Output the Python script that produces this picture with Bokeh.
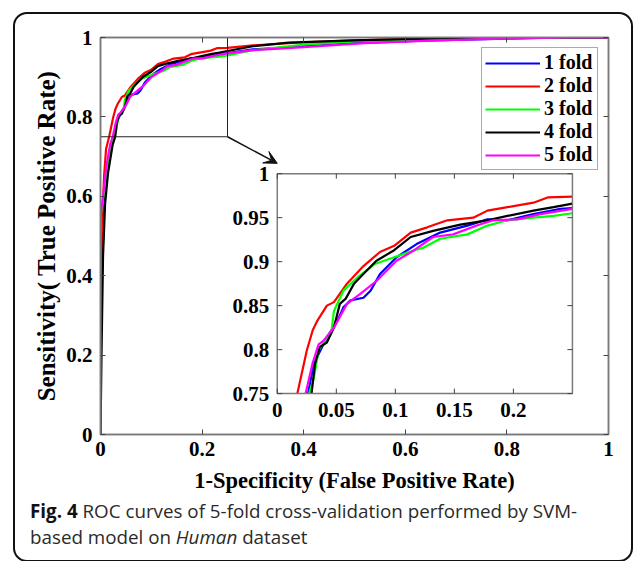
import numpy as np
from bokeh.plotting import figure
from bokeh.layouts import column
from bokeh.models import (Range1d, LinearAxis, Legend, LegendItem, Arrow, VeeHead,
                          Div, FixedTicker, CustomJSTickFormatter)
from bokeh.embed import file_html
from bokeh.resources import INLINE

# ---------------- data ----------------
fold_names = ["1 fold", "2 fold", "3 fold", "4 fold", "5 fold"]
fold_colors = ["#0000FF", "#FF0000", "#00FF00", "#000000", "#FF00FF"]

fpr_1 = [0, 0, 0.004, 0.008, 0.014, 0.020, 0.026, 0.031, 0.042, 0.051, 0.056, 0.062, 0.073, 0.079, 0.087,
         0.101, 0.118, 0.138, 0.161, 0.178, 0.195, 0.217, 0.240, 0.25, 0.30, 0.40, 0.50, 0.65, 0.80, 0.90, 1.0]
tpr_1 = [0, 0.25, 0.45, 0.60, 0.68, 0.73, 0.75, 0.784, 0.814, 0.833, 0.848, 0.856, 0.859, 0.867, 0.886,
         0.905, 0.920, 0.933, 0.941, 0.948, 0.947, 0.954, 0.960, 0.961, 0.970, 0.978, 0.986, 0.993, 0.997, 1.0, 1.0]

fpr_2 = [0, 0, 0.002, 0.004, 0.007, 0.011, 0.017, 0.025, 0.030, 0.034, 0.042, 0.048, 0.059, 0.073, 0.087,
         0.099, 0.113, 0.127, 0.144, 0.166, 0.178, 0.195, 0.217, 0.229, 0.25, 0.30, 0.40, 0.50, 0.60, 0.75, 0.85, 1.0]
tpr_2 = [0, 0.20, 0.40, 0.55, 0.65, 0.72, 0.75, 0.799, 0.822, 0.833, 0.850, 0.854, 0.875, 0.895, 0.911,
         0.918, 0.933, 0.939, 0.947, 0.950, 0.958, 0.962, 0.967, 0.973, 0.974, 0.980, 0.988, 0.993, 0.996, 0.999, 1.0, 1.0]

fpr_3 = [0, 0, 0.006, 0.014, 0.022, 0.027, 0.031, 0.035, 0.046, 0.048, 0.056, 0.068, 0.082, 0.099, 0.116,
         0.124, 0.138, 0.161, 0.178, 0.195, 0.217, 0.234, 0.25, 0.30, 0.40, 0.50, 0.60, 0.75, 0.85, 1.0]
tpr_3 = [0, 0.55, 0.60, 0.68, 0.73, 0.75, 0.768, 0.799, 0.822, 0.844, 0.867, 0.882, 0.897, 0.905, 0.913,
         0.916, 0.926, 0.931, 0.941, 0.947, 0.950, 0.952, 0.955, 0.968, 0.982, 0.990, 0.993, 0.997, 1.0, 1.0]

fpr_4 = [0, 0.002, 0.005, 0.009, 0.015, 0.024, 0.029, 0.032, 0.036, 0.042, 0.048, 0.053, 0.058, 0.065, 0.070,
         0.084, 0.099, 0.113, 0.132, 0.155, 0.178, 0.195, 0.217, 0.234, 0.25, 0.30, 0.37, 0.50, 0.60, 0.75, 1.0]
tpr_4 = [0, 0.20, 0.45, 0.58, 0.66, 0.73, 0.75, 0.784, 0.803, 0.808, 0.825, 0.852, 0.858, 0.875, 0.882,
         0.901, 0.913, 0.928, 0.935, 0.942, 0.947, 0.952, 0.958, 0.962, 0.966, 0.978, 0.987, 0.993, 0.996, 1.0, 1.0]

fpr_5 = [0, 0, 0.005, 0.012, 0.019, 0.024, 0.030, 0.035, 0.039, 0.048, 0.059, 0.070, 0.084, 0.101, 0.116,
         0.132, 0.149, 0.169, 0.183, 0.203, 0.223, 0.25, 0.30, 0.40, 0.52, 0.65, 0.79, 0.92, 1.0]
tpr_5 = [0, 0.55, 0.60, 0.68, 0.73, 0.75, 0.785, 0.806, 0.810, 0.825, 0.852, 0.863, 0.878, 0.901, 0.913,
         0.928, 0.931, 0.941, 0.947, 0.948, 0.954, 0.960, 0.968, 0.976, 0.986, 0.992, 0.997, 1.0, 1.0]

fold_fpr = [fpr_1, fpr_2, fpr_3, fpr_4, fpr_5]
fold_tpr = [tpr_1, tpr_2, tpr_3, tpr_4, tpr_5]

main_ticks = [0, 0.2, 0.4, 0.6, 0.8, 1]
main_tick_labels = ["0", "0.2", "0.4", "0.6", "0.8", "1"]

zoom_x = [0, 0.25]
zoom_y = [0.75, 1.0]
inset_x_ticks = [0, 0.05, 0.1, 0.15, 0.2]
inset_x_labels = ["0", "0.05", "0.1", "0.15", "0.2"]
inset_y_ticks = [0.75, 0.8, 0.85, 0.9, 0.95, 1.0]
inset_y_labels = ["0.75", "0.8", "0.85", "0.9", "0.95", "1"]

x_title = "1-Specificity (False Positive Rate)"
y_title = "Sensitivity( True Positive Rate)"
caption_html = ("<b style='color:#111'>Fig. 4</b> ROC curves of 5-fold cross-validation performed by SVM-<br>"
                "based model on <i>Human</i> dataset")

# ---------------- layout / style constants ----------------
SERIF = "Liberation Serif"
SANS = "Open Sans"
FRAME_GRAY = "#7a7a7a"
INSET_TARGET_X = (0.348, 0.929)   # inset box position in main-plot data coords
INSET_TARGET_Y = (0.103, 0.657)
ARROW_END = (0.348, 0.683)

p = figure(frame_width=508, frame_height=397,
           min_border_left=85, min_border_right=23, min_border_top=23, min_border_bottom=50,
           x_range=Range1d(0, 1), y_range=Range1d(0, 1),
           output_backend="svg", toolbar_location=None,
           background_fill_color="white", border_fill_color=None)
p.grid.visible = False
p.outline_line_color = FRAME_GRAY
p.outline_line_width = 1.5


def label_formatter(tvals, tlabs):
    return CustomJSTickFormatter(args=dict(tvals=tvals, tlabs=tlabs), code="""
        for (let i = 0; i < tvals.length; i++) {
            if (Math.abs(tvals[i] - tick) < 1e-9) return tlabs[i];
        }
        return '';
    """)


def style_axis(ax, show_labels=True, title_size="23px"):
    ax.ticker = FixedTicker(ticks=main_ticks)
    ax.minor_tick_line_color = None
    ax.major_tick_in = 5
    ax.major_tick_out = 0
    ax.major_tick_line_color = "#444444"
    ax.axis_line_color = FRAME_GRAY
    ax.axis_line_width = 1.5
    if show_labels:
        ax.formatter = label_formatter(main_ticks, main_tick_labels)
        ax.major_label_text_font = SERIF
        ax.major_label_text_font_style = "bold"
        ax.major_label_text_font_size = "21px"
        ax.major_label_text_color = "black"
        ax.axis_label_text_font = SERIF
        ax.axis_label_text_font_style = "bold"
        ax.axis_label_text_font_size = title_size
        ax.axis_label_text_color = "black"
    else:
        ax.formatter = CustomJSTickFormatter(code="return ''")
        ax.major_label_standoff = 0


style_axis(p.xaxis[0], title_size="22.5px")
style_axis(p.yaxis[0], title_size="25px")
p.xaxis.axis_label = x_title
p.yaxis.axis_label = y_title
p.xaxis.major_label_standoff = 7
p.yaxis.major_label_standoff = 8
p.xaxis.axis_label_standoff = 9
p.yaxis.axis_label_standoff = 3

top_ax = LinearAxis()
right_ax = LinearAxis()
style_axis(top_ax, show_labels=False)
style_axis(right_ax, show_labels=False)
p.add_layout(top_ax, "above")
p.add_layout(right_ax, "right")

# main curves
renderers = []
for fpr, tpr, col in zip(fold_fpr, fold_tpr, fold_colors):
    renderers.append(p.line(fpr, tpr, line_color=col, line_width=2.2))

# zoom rectangle and arrow
p.quad(left=[zoom_x[0]], right=[zoom_x[1]], bottom=[zoom_y[0]], top=[zoom_y[1]],
       fill_color=None, line_color="#222222", line_width=1)
p.add_layout(Arrow(x_start=zoom_x[1], y_start=zoom_y[0], x_end=ARROW_END[0], y_end=ARROW_END[1],
                   line_color="#111111", line_width=1.5,
                   end=VeeHead(size=13, fill_color="#111111", line_color="#111111")))

# ---------------- inset (sub-coordinates) ----------------
sub = p.subplot(x_source=Range1d(*zoom_x), y_source=Range1d(*zoom_y),
                x_target=Range1d(*INSET_TARGET_X), y_target=Range1d(*INSET_TARGET_Y))
sub.quad(left=[zoom_x[0]], right=[zoom_x[1]], bottom=[zoom_y[0]], top=[zoom_y[1]],
         fill_color="white", line_color=None)
for fpr, tpr, col in zip(fold_fpr, fold_tpr, fold_colors):
    fx = np.array(fpr)
    fy = np.array(tpr)
    m = (fx <= zoom_x[1]) & (fy >= zoom_y[0])
    sub.line(fx[m], fy[m], line_color=col, line_width=2.2)
sub.quad(left=[zoom_x[0]], right=[zoom_x[1]], bottom=[zoom_y[0]], top=[zoom_y[1]],
         fill_color=None, line_color=FRAME_GRAY, line_width=1.5)
tick_style = dict(length=5, length_units="screen", line_color="#444444", line_width=1)
sub.ray(x=inset_x_ticks, y=[zoom_y[0]] * len(inset_x_ticks), angle=np.pi / 2, **tick_style)
sub.ray(x=inset_x_ticks, y=[zoom_y[1]] * len(inset_x_ticks), angle=-np.pi / 2, **tick_style)
sub.ray(x=[zoom_x[0]] * len(inset_y_ticks), y=inset_y_ticks, angle=0, **tick_style)
sub.ray(x=[zoom_x[1]] * len(inset_y_ticks), y=inset_y_ticks, angle=np.pi, **tick_style)
lab_style = dict(text_font={"value": SERIF}, text_font_style="bold", text_font_size="21px",
                 text_color="black")
sub.text(x=inset_x_ticks, y=[zoom_y[0]] * len(inset_x_ticks), text=inset_x_labels,
         text_align="center", text_baseline="top", y_offset=9, **lab_style)
sub.text(x=[zoom_x[0]] * len(inset_y_ticks), y=inset_y_ticks, text=inset_y_labels,
         text_align="right", text_baseline="middle", x_offset=-8, **lab_style)

# ---------------- legend ----------------
legend = Legend(items=[LegendItem(label=n, renderers=[r]) for n, r in zip(fold_names, renderers)],
                location="top_right", margin=10, padding=3, spacing=0,
                glyph_width=55, glyph_height=18, label_standoff=4, label_height=18, label_width=50,
                label_text_font=SERIF, label_text_font_style="bold", label_text_font_size="20px",
                label_text_color="black", label_text_line_height=1.05,
                border_line_color="#555555", border_line_width=1.5,
                background_fill_color="white", background_fill_alpha=1)
p.add_layout(legend)

# ---------------- caption and framed figure box ----------------
caption = Div(text=caption_html, width=600, height=65, margin=(0, 0, 0, 15),
              styles={"font-family": SANS, "font-size": "18.8px", "line-height": "26px",
                      "color": "#2a2a2a", "padding-top": "3px"})

layout = column(p, caption, margin=(12, 0, 0, 13), spacing=0,
                styles={"border": "2px solid #111111", "border-radius": "14px"})

open("out.html", "w").write(file_html(layout, INLINE))
